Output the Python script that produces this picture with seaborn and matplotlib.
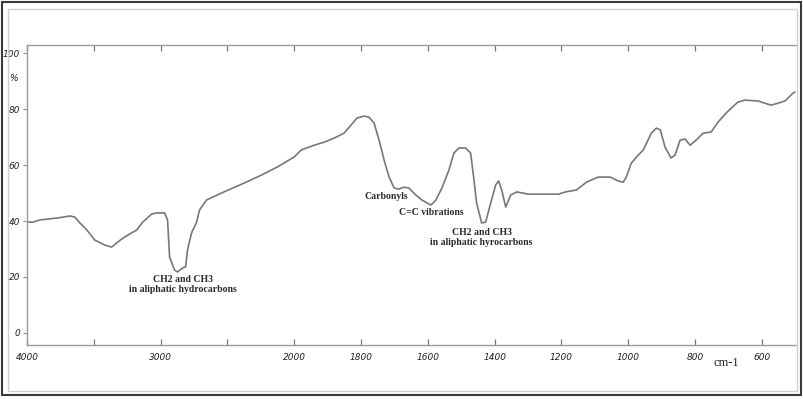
import numpy as np
import pandas as pd
import matplotlib
matplotlib.use("Agg")
import matplotlib.pyplot as plt
from matplotlib.patches import Rectangle
import seaborn as sns

# ---- data ----
wavenumber = [3993, 3955, 3903, 3769, 3679, 3642, 3604, 3552, 3493, 3418, 3366, 3321,
              3269, 3179, 3134, 3067, 3030, 2970, 2948, 2933, 2896, 2873, 2836, 2813,
              2799, 2769, 2731, 2709, 2657, 2545, 2373, 2246, 2127, 2000,
              1979, 1940, 1910, 1881, 1851, 1830, 1812, 1791, 1776, 1761, 1746, 1731,
              1716, 1701, 1687, 1672, 1657, 1636, 1618, 1591, 1576, 1558, 1537, 1522,
              1507, 1487, 1472, 1463, 1454, 1439, 1427, 1412, 1397, 1388, 1379, 1367,
              1352, 1334, 1299, 1209, 1188, 1155, 1125, 1090, 1054, 1030, 1015, 1006,
              991, 970, 955, 931, 916, 904, 890, 872, 860, 845, 830, 815, 797, 776,
              752, 731, 707, 672, 651, 612, 591, 573, 552, 531, 507, 501]
transmittance = [39.6, 39.6, 40.4, 41.1, 41.8, 41.4, 39.3, 36.8, 33.2, 31.4, 30.7, 32.5,
                 34.3, 36.8, 39.6, 42.5, 42.9, 42.9, 40.4, 27.1, 22.5, 21.8, 23.2, 23.6,
                 29.6, 35.7, 39.6, 43.9, 47.5, 50.0, 53.6, 56.4, 59.3, 62.9,
                 65.4, 67.1, 68.2, 69.6, 71.4, 74.3, 76.8, 77.5, 77.1, 75.0, 68.9, 61.8,
                 55.7, 51.8, 51.4, 52.1, 51.8, 49.3, 47.5, 45.7, 47.5, 51.8, 58.2, 64.3,
                 66.1, 66.1, 64.3, 55.7, 46.4, 39.3, 39.6, 46.4, 52.9, 54.3, 51.1, 45.0,
                 49.3, 50.4, 49.6, 49.6, 50.4, 51.1, 53.9, 55.7, 55.7, 54.3, 53.9, 55.7,
                 60.7, 63.6, 65.4, 71.4, 73.2, 72.5, 66.4, 62.5, 63.6, 68.9, 69.3, 67.1,
                 68.9, 71.4, 71.8, 75.4, 78.6, 82.5, 83.2, 82.9, 82.1, 81.4, 82.1, 82.9,
                 85.7, 86.1]

x_ticks = [4000, 3500, 3000, 2500, 2000, 1800, 1600, 1400, 1200, 1000, 800, 600]
x_tick_labels = ["4000", "", "3000", "", "2000", "1800", "1600", "1400", "1200", "1000", "800", "600"]
y_ticks = [0, 20, 40, 60, 80, 100]

annotations = [
    ("CH2 and CH3\nin aliphatic hydrocarbons", 2836, 17.3),
    ("Carbonyls", 1725, 48.6),
    ("C=C vibrations", 1591, 42.9),
    ("CH2 and CH3\nin aliphatic hyrocarbons", 1439, 34.1),
]

df = pd.DataFrame({"wavenumber": wavenumber, "T": transmittance})

# ---- style ----
sns.set_style("white")
plt.rcParams["font.family"] = ["DejaVu Sans"]

fig = plt.figure(figsize=(8.04, 3.99), dpi=100)
ax = fig.add_axes([27 / 804, 1 - 345 / 399, (797 - 27) / 804, (345 - 45) / 399])

# piecewise-linear IR wavenumber scale (scale change at 2000 cm-1), increasing in w
def fwd(w):
    w = np.asarray(w, dtype=float)
    return -np.where(w >= 2000, (4000 - w) / 500.0, 4 + (2000 - w) / 200.0)

def inv(v):
    u = -np.asarray(v, dtype=float)
    return np.where(u <= 4, 4000 - 500.0 * u, 2000 - 200.0 * (u - 4))

ax.set_xscale("function", functions=(fwd, inv))

sns.lineplot(data=df, x="wavenumber", y="T", ax=ax, color="#777777",
             linewidth=1.2, estimator=None, sort=True)

ax.set_xlim(4000, 495)
ax.set_ylim(-4.3, 102.9)
ax.set_xlabel("")
ax.set_ylabel("")

ax.set_xticks(x_ticks)
ax.set_xticklabels(x_tick_labels)
ax.xaxis.set_minor_locator(matplotlib.ticker.NullLocator())
ax.set_yticks(y_ticks)

for s in ["left", "top", "bottom"]:
    ax.spines[s].set_color("#9a9a9a")
    ax.spines[s].set_linewidth(1.0)
ax.spines["right"].set_visible(False)

ax.tick_params(axis="x", which="major", direction="in", top=True, bottom=True,
               length=4, width=0.9, color="#777777", pad=6,
               labelsize=6.5, labelcolor="#222222")
ax.tick_params(axis="y", which="major", direction="out", left=True, length=3,
               width=0.9, color="#999999", pad=2, labelsize=6.5, labelcolor="#222222")
for lab in ax.get_xticklabels() + ax.get_yticklabels():
    lab.set_fontstyle("italic")

ax.text(-0.012, 91, "%", transform=ax.get_yaxis_transform(), ha="right", va="center",
        fontsize=6.5, style="italic", color="#222222")

for txt, xw, yv in annotations:
    ax.text(xw, yv, txt, ha="center", va="center", fontsize=7,
            family=["Liberation Serif", "DejaVu Serif"], fontweight="bold",
            color="#2a2a2a", linespacing=1.25, multialignment="center")

ax.text(707, -10.9, "cm-1", ha="center", va="center", fontsize=9,
        family=["Liberation Serif", "DejaVu Serif"], color="#222222", clip_on=False)

# scanned page frame
fig.patches.append(Rectangle((8 / 804, 1 - 391 / 399), (797 - 8) / 804, (391 - 9) / 399,
                             transform=fig.transFigure, fill=False, edgecolor="#cfcfcf",
                             linewidth=1.0, zorder=0))
fig.patches.append(Rectangle((2 / 804, 1 - 395 / 399), (801 - 2) / 804, (395 - 2) / 399,
                             transform=fig.transFigure, fill=False, edgecolor="#3a3a3a",
                             linewidth=1.5, zorder=0))

fig.savefig("out.png", dpi=100)
